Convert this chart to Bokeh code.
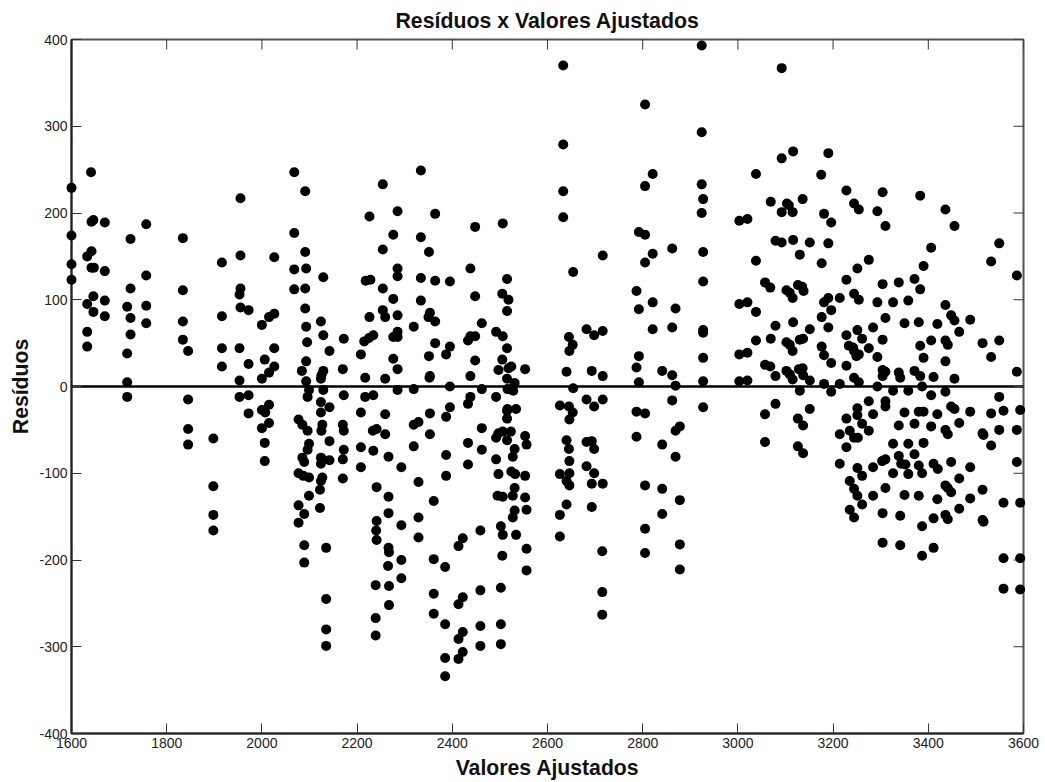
from bokeh.plotting import figure
from bokeh.embed import file_html
from bokeh.resources import INLINE
from bokeh.models import FixedTicker, Span, ColumnDataSource, Range1d

x_ticks = list(range(1600, 3601, 200))
y_ticks = list(range(-400, 401, 100))
y_tick_labels = {t: str(t) for t in y_ticks}

fit_1600_1900 = [(1600,229),(1600,174),(1600,141),(1600,123),(1641,247),(1642,190),(1646,192),(1670,189),(1642,156),(1633,150),(1642,137),(1647,137),(1670,133),(1646,104),(1633,95),(1670,99),(1646,86),(1670,81),(1633,63),(1633,46),
(1724,170),(1724,113),(1717,92),(1724,79),(1724,60),(1717,38),(1717,5),(1717,-12),(1757,187),(1757,128),(1757,93),(1757,73),(1834,171),(1834,111),(1834,75),(1834,54),(1845,41),(1845,-15),(1845,-49),(1845,-67),(1898,-60),(1898,-115),(1898,-148),(1898,-166)]

fit_1900_2100 = [(1916,143),(1916,81),(1916,44),(1916,23),(1955,217),(1955,151),(1955,113),(1953,106),(1955,91),(1972,88),(1953,44),(1972,26),(1953,7),(1953,-12),(1972,-10),(1972,-31),
(2026,149),(2026,84),(2015,80),(2000,71),(2026,44),(2006,31),(2026,23),(2015,16),(2000,9),(2015,-21),(2000,-27),(2007,-30),(2015,-42),(2000,-48),(2006,-65),(2006,-86),
(2068,247),(2091,225),(2068,177),(2091,155),(2068,135),(2093,136),(2068,112),(2091,113),(2091,90),(2093,69),(2095,51),(2093,29),(2084,18),(2093,6),
(2099,-4),(2096,-12),(2077,-38),(2085,-44),(2096,-51),(2099,-66),(2096,-73),(2085,-82),(2089,-87),(2077,-100),(2087,-103),(2099,-105),(2099,-126),(2077,-137),(2089,-147),(2077,-157),(2089,-183),(2089,-203)]

fit_2100_2300 = [(2129,126),(2124,75),(2129,59),(2142,41),(2129,18),(2125,13),(2124,9),(2129,-4),(2124,-18),(2142,-24),(2124,-30),(2127,-44),(2125,-51),(2142,-63),(2124,-82),(2127,-84),(2142,-85),(2124,-89),(2127,-105),(2124,-109),(2122,-119),(2122,-140),(2135,-186),(2135,-245),(2135,-280),(2135,-299),
(2172,55),(2170,20),(2172,-10),(2170,-44),(2172,-51),(2172,-73),(2170,-84),(2170,-106),
(2226,196),(2254,233),(2285,202),(2276,175),(2254,158),(2285,136),(2285,127),(2218,122),(2228,123),(2254,113),(2276,101),(2254,88),(2259,80),(2285,82),(2226,80),(2234,59),(2225,56),(2215,52),(2276,57),(2285,63),(2285,57),(2208,37),(2276,32),(2285,20),(2217,10),(2259,9),
(2217,-12),(2234,-10),(2208,-30),(2233,-51),(2241,-49),(2259,-55),(2259,-32),(2208,-70),(2234,-74),(2208,-93),(2266,-81),(2293,-93),(2241,-116),(2266,-127),(2241,-155),(2266,-146),(2240,-166),(2241,-177),(2266,-186),(2267,-191),(2293,-160),(2265,-207),(2293,-200),(2239,-229),(2267,-230),(2293,-221),(2267,-252),(2239,-267),(2239,-287),(2285,-4)]

fit_2300_2420 = [(2334,249),(2364,199),(2334,172),(2351,155),(2334,125),(2364,122),(2395,121),(2334,99),(2353,85),(2350,80),(2364,75),(2319,69),(2364,50),(2395,46),(2387,37),(2351,35),(2353,12),(2352,10),(2395,0),(2319,-3),
(2319,-44),(2329,-41),(2353,-31),(2353,-55),(2319,-69),(2329,-110),(2361,-132),(2329,-151),(2329,-174),(2361,-199),(2385,-208),(2361,-239),(2361,-262),(2385,-274),(2385,-313),(2385,-334),(2395,-24),(2387,-35),(2387,-79),(2387,-103),(2413,-184),(2413,-251),(2413,-291),(2413,-314)]

fit_2420_2560 = [(2448,184),(2438,136),(2448,104),(2462,73),(2438,58),(2448,58),(2433,53),(2448,30),(2438,12),(2462,-3),(2438,-12),(2433,-20),(2462,-48),(2433,-65),(2462,-73),(2433,-90),(2459,-166),(2422,-175),(2459,-235),(2422,-243),(2459,-276),(2422,-283),(2459,-299),(2422,-306),
(2506,188),(2515,124),(2505,107),(2518,100),(2515,87),(2492,63),(2506,58),(2515,44),(2505,31),(2524,23),(2518,21),(2497,19),(2553,20),(2515,9),(2531,4),(2516,-3),(2524,-3),(2492,-12),(2528,-5),(2516,-26),(2534,-26),(2515,-28),(2515,-37),(2523,-52),(2506,-52),(2497,-54),(2492,-59),(2515,-62),(2553,-57),(2556,-67),(2531,-72),(2527,-81),(2492,-84),(2524,-98),(2532,-101),(2497,-101),(2553,-103),(2531,-117),(2527,-126),(2495,-126),(2506,-127),(2553,-128),(2556,-142),(2531,-143),(2527,-151),(2502,-161),(2506,-171),(2534,-171),(2556,-187),(2505,-195),(2556,-212),(2502,-232),(2502,-274),(2502,-297)]

fit_2600_2950 = [(2633,370),(2633,279),(2633,225),(2633,195),(2654,132),(2716,151),(2645,57),(2653,48),(2646,41),(2682,66),(2698,59),(2716,64),(2640,17),(2693,18),(2716,12),(2654,-2),
(2626,-22),(2645,-23),(2653,-30),(2646,-38),(2640,-62),(2645,-72),(2646,-86),(2626,-101),(2646,-100),(2640,-109),(2646,-114),(2640,-136),(2626,-148),(2626,-173),
(2682,-15),(2698,-23),(2716,-15),(2682,-64),(2693,-63),(2698,-72),(2682,-92),(2698,-100),(2693,-112),(2716,-112),(2693,-139),(2715,-190),(2715,-237),(2715,-263),
(2805,325),(2821,245),(2805,231),(2792,178),(2805,175),(2821,153),(2862,159),(2805,143),(2787,110),(2821,97),(2792,89),(2869,90),(2821,66),(2862,68),(2792,35),(2787,22),(2841,18),(2862,13),(2792,5),(2869,1),
(2787,-29),(2805,-31),(2787,-58),(2841,-67),(2869,-51),(2878,-46),(2869,-81),(2862,-16),(2805,-114),(2841,-118),(2878,-131),(2841,-147),(2805,-164),(2878,-182),(2805,-192),(2878,-211),
(2924,393),(2924,293),(2924,233),(2927,216),(2924,200),(2927,155),(2927,121),(2927,65),(2927,62),(2927,33),(2927,6),(2927,-24)]

fit_3000_3200 = [(3092,367),(3092,263),(3116,271),(3190,269),(3038,245),(3175,244),(3069,213),(3103,211),(3107,209),(3136,216),(3092,201),(3115,201),(3181,199),(3196,189),(3003,191),(3020,193),(3079,168),(3092,166),(3116,169),(3151,166),(3190,165),(3130,152),(3038,145),(3176,142),(3057,120),(3068,114),(3102,111),(3109,108),(3126,117),(3135,115),(3138,110),(3115,102),(3190,102),(3181,97),(3196,88),(3003,95),(3020,97),(3038,86),(3176,80),(3116,74),(3079,70),(3151,66),(3190,68),(3038,53),(3069,55),(3130,54),(3137,55),(3102,51),(3109,48),(3115,41),(3176,46),(3181,36),(3003,37),(3020,39),(3057,25),(3068,23),(3196,27),(3102,18),(3109,14),(3115,8),(3128,20),(3136,21),(3137,13),(3151,7),(3079,12),(3181,3),(3003,6),(3020,7),
(3079,-20),(3057,-32),(3057,-64),(3130,-5),(3151,-26),(3126,-37),(3137,-45),(3126,-69),(3137,-77),(3196,-6)]

fit_3200_3400 = [(3228,226),(3244,211),(3254,204),(3304,224),(3293,202),(3310,185),(3383,220),(3275,146),(3251,136),(3390,139),(3228,123),(3304,118),(3338,120),(3371,124),(3383,112),(3244,107),(3254,100),(3214,102),(3293,97),(3326,97),(3358,99),(3310,79),(3350,73),(3380,74),(3284,68),(3251,65),(3228,59),(3261,55),(3304,54),(3233,47),(3242,45),(3244,41),(3254,37),(3249,35),(3275,44),(3293,34),(3383,47),(3390,33),(3228,24),(3214,3),(3244,10),(3254,5),(3304,19),(3310,17),(3304,12),(3338,16),(3341,10),(3371,18),(3383,12),(3293,0),(3387,0),
(3228,-37),(3251,-25),(3251,-33),(3214,-55),(3235,-51),(3261,-43),(3275,-51),(3244,-59),(3252,-59),(3228,-70),(3214,-89),(3275,-17),(3284,-32),(3310,-17),(3310,-23),(3326,-5),(3358,-5),(3350,-30),(3380,-29),(3390,-29),(3338,-45),(3371,-43),(3326,-66),(3358,-66),(3390,-65),(3371,-78),(3338,-80),(3310,-84),(3303,-86),(3343,-89),(3352,-90),(3284,-93),(3251,-94),(3380,-91),(3261,-103),(3326,-100),(3358,-101),(3387,-100),(3235,-109),(3244,-118),(3251,-126),(3261,-136),(3284,-126),(3310,-117),(3350,-125),(3380,-126),(3235,-142),(3244,-151),(3304,-146),(3341,-149),(3387,-161),(3304,-180),(3341,-183),(3387,-195)]

fit_3400_3600 = [(3436,204),(3455,185),(3406,160),(3549,165),(3532,144),(3586,128),(3436,94),(3448,82),(3455,76),(3419,72),(3488,77),(3465,63),(3406,53),(3436,53),(3441,48),(3514,50),(3549,53),(3532,34),(3436,29),(3411,11),(3455,9),(3586,17),
(3406,-10),(3436,-6),(3549,-12),(3419,-32),(3448,-23),(3455,-26),(3488,-29),(3532,-31),(3558,-28),(3593,-27),(3406,-46),(3465,-42),(3436,-50),(3441,-55),(3514,-54),(3516,-56),(3549,-50),(3586,-50),(3532,-68),(3411,-89),(3420,-95),(3448,-87),(3488,-93),(3586,-87),(3465,-106),(3436,-114),(3441,-117),(3448,-122),(3419,-130),(3488,-129),(3514,-119),(3558,-134),(3593,-134),(3465,-141),(3411,-152),(3436,-148),(3441,-153),(3514,-154),(3516,-156),(3411,-186),(3558,-198),(3593,-198),(3558,-233),(3593,-234)]

groups = [fit_1600_1900, fit_1900_2100, fit_2100_2300, fit_2300_2420, fit_2420_2560,
          fit_2600_2950, fit_3000_3200, fit_3200_3400, fit_3400_3600]
pairs = [pt for g in groups for pt in g]
source = ColumnDataSource(data=dict(x=[a for a, _ in pairs], y=[b for _, b in pairs]))

FONT = "Liberation Sans"
p = figure(width=1044, height=781,
           x_range=Range1d(x_ticks[0], x_ticks[-1]), y_range=Range1d(y_ticks[0], y_ticks[-1]),
           output_backend="svg", toolbar_location=None, tools="",
           min_border_left=71, min_border_right=21, min_border_top=39, min_border_bottom=0,
           title="Resíduos x Valores Ajustados", x_axis_label="Valores Ajustados",
           y_axis_label="Resíduos")
p.grid.visible = False
p.outline_line_color = "#555555"
p.outline_line_width = 2
p.background_fill_color = "white"
p.title.align = "center"
p.title.text_font = FONT
p.title.text_font_style = "bold"
p.title.text_font_size = "21.3px"
p.title.text_color = "#111111"
p.title.standoff = 13

for ax, ticks in ((p.xaxis[0], x_ticks), (p.yaxis[0], y_ticks)):
    ax.ticker = FixedTicker(ticks=ticks)
    ax.major_tick_in = 10
    ax.major_tick_out = 0
    ax.major_tick_line_color = "#333333"
    ax.major_tick_line_width = 1
    ax.minor_tick_line_color = None
    ax.axis_line_width = 2
    ax.axis_line_color = "#222222"
    ax.major_label_text_font = FONT
    ax.major_label_text_font_size = "14px"
    ax.major_label_text_color = "#222222"
    ax.major_label_standoff = 4
    ax.axis_label_text_font = FONT
    ax.axis_label_text_font_style = "bold"
    ax.axis_label_text_font_size = "21.2px"
    ax.axis_label_text_color = "#111111"
p.xaxis[0].axis_label_standoff = 5
p.yaxis[0].axis_label_standoff = 4
p.yaxis[0].major_label_overrides = y_tick_labels

# Mirror ticks on the top and right edges, pointing inward
p.ray(x=x_ticks, y=[y_ticks[-1]] * len(x_ticks), length=10, length_units="screen",
      angle=-90, angle_units="deg", line_color="#333333", line_width=1)
p.ray(x=[x_ticks[-1]] * len(y_ticks), y=y_ticks, length=10, length_units="screen",
      angle=180, angle_units="deg", line_color="#333333", line_width=1)

p.add_layout(Span(location=0, dimension="width", line_color="black", line_width=2.5, level="underlay"))
p.scatter("x", "y", source=source, size=10, marker="circle", fill_color="black", line_color="black", line_width=0, level="overlay")

open("out.html", "w").write(file_html(p, INLINE))
